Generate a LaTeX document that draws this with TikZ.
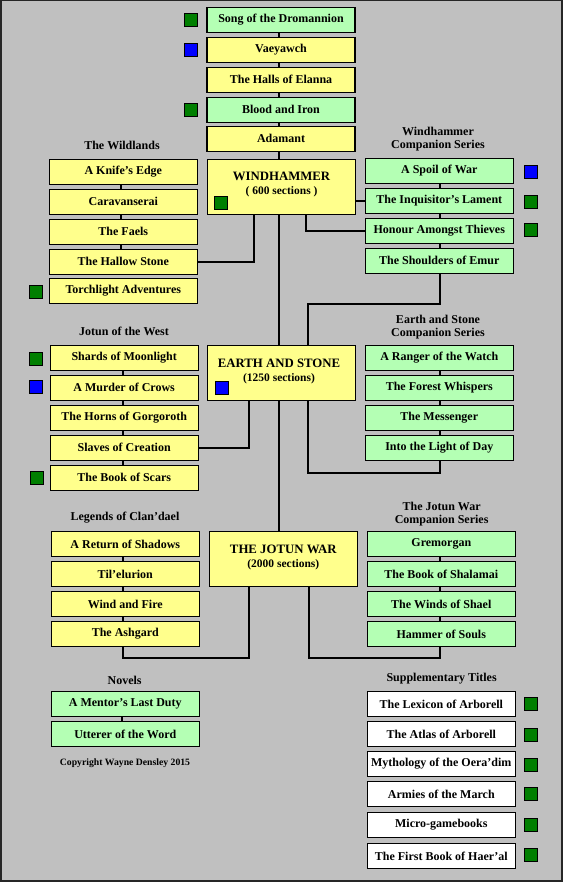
\documentclass[tikz,border=0pt]{standalone}
\usepackage{fontspec}
\setmainfont{Liberation Serif}
\definecolor{bgc}{HTML}{C0C0C0}
\definecolor{yel}{HTML}{FFFF8C}
\definecolor{grn}{HTML}{B4FFB4}
\definecolor{dgrn}{HTML}{007F00}
\definecolor{dblu}{HTML}{0000FF}
\tikzset{
  bookbox/.style={draw=black, line width=1.1pt, rectangle, minimum width=148pt, minimum height=25pt, inner sep=0pt, font=\bfseries\fontsize{12}{12}\selectfont, align=center},
  ybox/.style={bookbox, fill=yel},
  gbox/.style={bookbox, fill=grn},
  wbox/.style={bookbox, fill=white},
  bigbox/.style={draw=black, line width=1.1pt, rectangle, fill=yel, minimum width=148pt, minimum height=55pt, inner sep=0pt, align=center},
  ttl/.style={font=\bfseries\fontsize{12}{13}\selectfont, align=center, inner sep=0pt},
  bigttl/.style={font=\bfseries\fontsize{12.8}{14}\selectfont, inner sep=0pt},
  sect/.style={font=\bfseries\fontsize{11.5}{12}\selectfont, inner sep=0pt},
  gsq/.style={draw=black, line width=0.8pt, fill=dgrn, minimum size=13pt, inner sep=0pt},
  bsq/.style={draw=black, line width=0.8pt, fill=dblu, minimum size=13pt, inner sep=0pt},
  link/.style={draw=black, line width=2pt},
}
\begin{document}
\begin{tikzpicture}[x=1pt, y=-1pt]
\useasboundingbox (0,0) rectangle (563,882);
\fill[bgc] (0,0) rectangle (563,882);
\draw[black!85, line width=1.5pt] (0.75,0.75) rectangle (561.75,880.75);

% coordinates for connector bends
\coordinate (whL) at (254.2,214.3);
\coordinate (whR) at (306,214.3);
\coordinate (esL) at (248.8,400.3);
\coordinate (esR) at (308,400.3);
\coordinate (esT) at (307.7,345.7);
\coordinate (jwL) at (248.8,586.3);
\coordinate (jwR) at (308.8,586.3);
\coordinate (mainTop) at (279,214.3);
\coordinate (mainMid1) at (279,345.7);
\coordinate (mainMid2) at (279,400.3);
\coordinate (mainBot) at (279,531.7);
\coordinate (xW) at (121,0);
\coordinate (xJ) at (123,0);
\coordinate (xN) at (122,0);
\coordinate (xR) at (440,0);
\coordinate (xT) at (279,0);

% ---------- top stack ----------
\node[gbox] (song) at (281,19.8) {Song of the Dromannion};
\node[ybox] (vaey) at (281,49.8) {Vaeyawch};
\node[ybox] (halls) at (281,79.8) {The Halls of Elanna};
\node[gbox] (blood) at (281,109.8) {Blood and Iron};
\node[ybox] (adamant) at (281,138.8) {Adamant};
\node[gsq] (sqsong) at (190.5,19.8) {};
\node[bsq] (sqvaey) at (190.5,49.8) {};
\node[gsq] (sqblood) at (190.5,109.8) {};

% ---------- Windhammer ----------
\node[bigbox] (wh) at (281.5,186.8) {};
\node[bigttl] (whname) at (281.5,176.5) {WINDHAMMER};
\node[sect] (whsec) at (281.5,191.8) {( 600 sections )};
\node[gsq] (sqwh) at (221,202.8) {};

\draw[link] (song.south -| xT) -- (vaey.north -| xT);
\draw[link] (vaey.south -| xT) -- (halls.north -| xT);
\draw[link] (halls.south -| xT) -- (blood.north -| xT);
\draw[link] (blood.south -| xT) -- (adamant.north -| xT);
\draw[link] (adamant.south -| xT) -- (wh.north -| xT);

% ---------- The Wildlands ----------
\node[ttl] (twild) at (122,145) {The Wildlands};
\node[ybox] (knife) at (123.3,171.8) {A Knife's Edge};
\node[ybox] (carav) at (123.3,201.8) {Caravanserai};
\node[ybox] (faels) at (123.3,231.8) {The Faels};
\node[ybox] (hallow) at (123.3,261.8) {The Hallow Stone};
\node[ybox] (torch) at (123.3,290.6) {Torchlight Adventures};
\node[gsq] (sqtorch) at (36,291.8) {};
\draw[link] (knife.south -| xW) -- (carav.north -| xW);
\draw[link] (carav.south -| xW) -- (faels.north -| xW);
\draw[link] (faels.south -| xW) -- (hallow.north -| xW);
\draw[link] (whL) |- (hallow.east);

% ---------- Windhammer Companion Series ----------
\node[ttl] (twhc) at (438,139.3) {Windhammer\\Companion Series};
\node[gbox] (spoil) at (439.3,170.8) {A Spoil of War};
\node[gbox] (inq) at (439.3,200.8) {The Inquisitor's Lament};
\node[gbox] (honour) at (439.3,230.8) {Honour Amongst Thieves};
\node[gbox] (shoulders) at (439.3,260.8) {The Shoulders of Emur};
\node[bsq] (sqspoil) at (530.8,172) {};
\node[gsq] (sqinq) at (530.8,201.8) {};
\node[gsq] (sqhonour) at (530.8,229.8) {};
\draw[link] (spoil.south -| xR) -- (inq.north -| xR);
\draw[link] (inq.south -| xR) -- (honour.north -| xR);
\draw[link] (honour.south -| xR) -- (shoulders.north -| xR);
\draw[link] (inq.west) -- (inq.west -| wh.east);
\draw[link] (whR) |- (honour.west);

% ---------- Earth and Stone ----------
\node[bigbox] (es) at (281.5,373) {};
\node[bigttl] (esname) at (279,363.5) {EARTH AND STONE};
\node[sect] (essec) at (279,378.5) {(1250 sections)};
\node[bsq] (sqes) at (221.8,387.7) {};
\draw[link] (shoulders.south -| xR) -- ++(0,30) -| (esT);
\draw[link] (mainTop) -- (mainMid1);

% ---------- Jotun of the West ----------
\node[ttl] (tjw) at (124,331) {Jotun of the West};
\node[ybox] (shards) at (124.2,358) {Shards of Moonlight};
\node[ybox] (murder) at (124.2,387.8) {A Murder of Crows};
\node[ybox] (horns) at (124.2,417.8) {The Horns of Gorgoroth};
\node[ybox] (slaves) at (124.2,447.8) {Slaves of Creation};
\node[ybox] (scars) at (124.2,477.8) {The Book of Scars};
\node[gsq] (sqshards) at (36,358.8) {};
\node[bsq] (sqmurder) at (36,386.8) {};
\node[gsq] (sqscars) at (37,477.8) {};
\draw[link] (shards.south -| xJ) -- (murder.north -| xJ);
\draw[link] (murder.south -| xJ) -- (horns.north -| xJ);
\draw[link] (horns.south -| xJ) -- (slaves.north -| xJ);
\draw[link] (slaves.south -| xJ) -- (scars.north -| xJ);
\draw[link] (esL) |- (slaves.east);

% ---------- Earth and Stone Companion Series ----------
\node[ttl] (tesc) at (438,327.5) {Earth and Stone\\Companion Series};
\node[gbox] (ranger) at (439.3,358) {A Ranger of the Watch};
\node[gbox] (forest) at (439.3,387.8) {The Forest Whispers};
\node[gbox] (messenger) at (439.3,417.8) {The Messenger};
\node[gbox] (light) at (439.3,447.8) {Into the Light of Day};
\draw[link] (ranger.south -| xR) -- (forest.north -| xR);
\draw[link] (forest.south -| xR) -- (messenger.north -| xR);
\draw[link] (messenger.south -| xR) -- (light.north -| xR);
\draw[link] (esR) -- ++(0,72.4) -| (light.south -| xR);

% ---------- The Jotun War ----------
\node[bigbox] (jw) at (283.3,559) {};
\node[bigttl] (jwname) at (283.3,549.5) {THE JOTUN WAR};
\node[sect] (jwsec) at (283.3,564.5) {(2000 sections)};
\draw[link] (mainMid2) -- (mainBot);

% ---------- Legends of Clan'dael ----------
\node[ttl] (tlc) at (125,517.3) {Legends of Clan'dael};
\node[ybox] (return) at (125.3,544) {A Return of Shadows};
\node[ybox] (til) at (125.3,574) {Til'elurion};
\node[ybox] (wind) at (125.3,604) {Wind and Fire};
\node[ybox] (ash) at (125.3,634) {The Ashgard};
\draw[link] (return.south -| xJ) -- (til.north -| xJ);
\draw[link] (til.south -| xJ) -- (wind.north -| xJ);
\draw[link] (wind.south -| xJ) -- (ash.north -| xJ);
\draw[link] (jwL) -- ++(0,71.4) -| (ash.south -| xJ);

% ---------- The Jotun War Companion Series ----------
\node[ttl] (tjwc) at (441.6,514.5) {The Jotun War\\Companion Series};
\node[gbox] (grem) at (441.3,544) {Gremorgan};
\node[gbox] (shal) at (441.3,574) {The Book of Shalamai};
\node[gbox] (winds) at (441.3,604) {The Winds of Shael};
\node[gbox] (hammer) at (441.3,634) {Hammer of Souls};
\draw[link] (grem.south -| xR) -- (shal.north -| xR);
\draw[link] (shal.south -| xR) -- (winds.north -| xR);
\draw[link] (winds.south -| xR) -- (hammer.north -| xR);
\draw[link] (jwR) -- ++(0,71.4) -| (hammer.south -| xR);

% ---------- Novels ----------
\node[ttl] (tnov) at (124.6,680) {Novels};
\node[gbox] (mentor) at (125.3,704) {A Mentor's Last Duty};
\node[gbox] (utterer) at (125.3,734) {Utterer of the Word};
\draw[link] (mentor.south -| xN) -- (utterer.north -| xN);
\node[font=\bfseries\fontsize{9.7}{10}\selectfont, inner sep=0pt] (copy) at (125,762.7) {Copyright Wayne Densley 2015};

% ---------- Supplementary Titles ----------
\node[ttl] (tsup) at (441.6,679) {Supplementary Titles};
\node[wbox] (lex) at (441.3,704) {The Lexicon of Arborell};
\node[wbox] (atlas) at (441.3,734) {The Atlas of Arborell};
\node[wbox] (myth) at (441.3,764) {Mythology of the Oera'dim};
\node[wbox] (armies) at (441.3,794) {Armies of the March};
\node[wbox] (micro) at (441.3,824.6) {Micro-gamebooks};
\node[wbox] (first) at (441.3,856) {The First Book of Haer'al};
\node[gsq] (sqlex) at (530.8,703.8) {};
\node[gsq] (sqatlas) at (530.8,734.8) {};
\node[gsq] (sqmyth) at (530.8,764.8) {};
\node[gsq] (sqarmies) at (530.8,793.8) {};
\node[gsq] (sqmicro) at (530.8,825) {};
\node[gsq] (sqfirst) at (530.8,855) {};
\end{tikzpicture}
\end{document}
